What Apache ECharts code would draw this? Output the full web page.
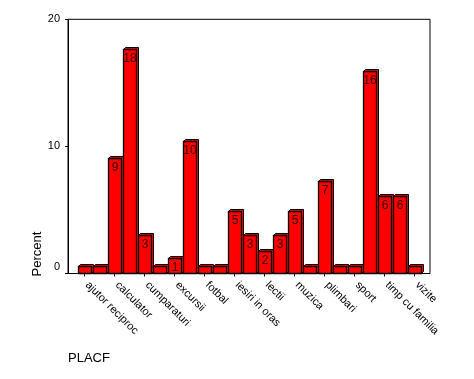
<!DOCTYPE html>
<html>
<head>
<meta charset="utf-8">
<script src="https://cdn.jsdelivr.net/npm/echarts@6/dist/echarts.min.js"></script>
<style>
html,body{margin:0;padding:0;background:#fff;}
#chart{width:474px;height:379px;}
</style>
</head>
<body>
<div id="chart"></div>
<script>
// Categories (every other one is labelled in the reference)
const categories = [
  'ajutor reciproc', 'biblioteca', 'calculator', 'citit', 'cumparaturi', 'dans',
  'excursii', 'filme', 'fotbal', 'gatit', 'iesiri in oras', 'jocuri',
  'lectii', 'lectura', 'muzica', 'odihna', 'plimbari', 'sah',
  'sport', 'televizor', 'timp cu familia', 'tricotat', 'vizite'
];
// Percent values
const percents = [
  0.6, 0.6, 9.1, 17.7, 3.0, 0.6,
  1.2, 10.4, 0.6, 0.6, 4.9, 3.0,
  1.8, 3.0, 4.9, 0.6, 7.3, 0.6,
  0.6, 15.9, 6.1, 6.1, 0.6
];
const yTicks = [0, 10, 20];
const yTitle = 'Percent';
const xTitle = 'PLACF';

const chart = echarts.init(document.getElementById('chart'), null, {renderer: 'canvas'});
const FONT = 'Liberation Sans, Arial, sans-serif';

const option = {
  animation: false,
  backgroundColor: '#fff',
  grid: [
    {left: 76.8, top: 19.3, width: 345, height: 254.2, show: false},
    {left: 68, top: 19.3, width: 362, height: 254.2, show: true, borderColor: '#000', borderWidth: 1, backgroundColor: 'transparent'}
  ],
  xAxis: [
    {
      type: 'category', gridIndex: 0, data: categories, boundaryGap: true,
      axisLine: {show: false},
      axisTick: {show: true, interval: 1, alignWithLabel: true, length: 3, lineStyle: {color: '#000'}},
      axisLabel: {interval: 1, rotate: -45, margin: 7, padding: [0, 0, 0, 4], fontSize: 11, fontFamily: FONT, color: '#000'},
      splitLine: {show: false}
    },
    {type: 'value', gridIndex: 1, show: false, min: 0, max: 1}
  ],
  yAxis: [
    {
      type: 'value', gridIndex: 0, min: yTicks[0], max: yTicks[yTicks.length - 1], interval: 10,
      offset: 8.8,
      axisLine: {show: true, lineStyle: {color: '#000'}},
      axisTick: {show: true, length: 3, lineStyle: {color: '#000'}},
      splitLine: {show: false},
      axisLabel: {
        margin: 8, fontSize: 11, fontFamily: FONT, color: '#000',
        formatter: function (v) { return v === 0 ? '{z|0}' : String(v); },
        rich: {z: {fontSize: 11, fontFamily: FONT, color: '#000', padding: [0, 0, 13, 0]}}
      }
    },
    {type: 'value', gridIndex: 1, show: false, min: 0, max: 1}
  ],
  graphic: [
    {type: 'text', x: 37, y: 254, rotation: Math.PI / 2,
      style: {text: yTitle, font: '13px ' + FONT, fill: '#000', textAlign: 'center', textVerticalAlign: 'middle'}},
    {type: 'text', x: 68, y: 358,
      style: {text: xTitle, font: '13px ' + FONT, fill: '#000', textAlign: 'left', textVerticalAlign: 'middle'}}
  ],
  series: [{
    type: 'custom',
    xAxisIndex: 0, yAxisIndex: 0,
    data: percents.map((v, i) => [i, v]),
    renderItem: function (params, api) {
      const i = api.value(0), v = api.value(1);
      const top = api.coord([i, v]);
      const base = api.coord([i, 0]);
      const band = api.size([1, 0])[0];
      const w = band * 0.88;
      const d = 2;
      const x0 = Math.round(top[0] - w / 2) + 0.5;
      const x1 = x0 + Math.round(w);
      const yT = Math.round(top[1]) + 0.5;
      const yB = base[1];
      const children = [
        {type: 'polygon', shape: {points: [[x0, yT], [x0 + d, yT - d], [x1 + d, yT - d], [x1 + d, yB - d], [x1, yB], [x1, yT]]},
          style: {fill: '#ff0000', stroke: '#000', lineWidth: 1}},
        {type: 'rect', shape: {x: x0, y: yT, width: x1 - x0, height: yB - yT},
          style: {fill: '#ff0000', stroke: '#000', lineWidth: 1.3}}
      ];
      if (v >= 1) {
        children.push({type: 'text', x: (x0 + x1) / 2, y: yT + 3,
          style: {text: String(Math.round(v)), font: '12px ' + FONT, fill: '#300000', textAlign: 'center', textVerticalAlign: 'top'}});
      }
      return {type: 'group', children: children};
    }
  }]
};
chart.setOption(option);
</script>
</body>
</html>
